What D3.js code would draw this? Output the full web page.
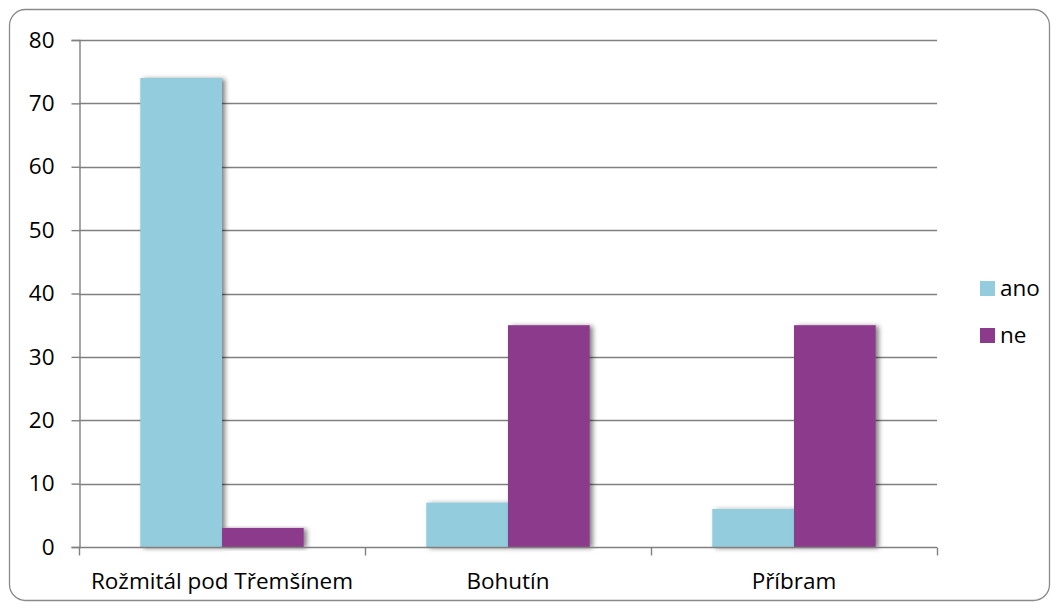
<!DOCTYPE html>
<html>
<head>
<meta charset="utf-8">
<script src="https://cdn.jsdelivr.net/npm/d3@7"></script>
<style>
  body { margin: 0; background: #fff; }
  svg { display: block; font-family: "Open Sans", sans-serif; }
</style>
</head>
<body>
<svg id="chart"></svg>
<script>
// data
const categories = ['Rožmitál pod Třemšínem', 'Bohutín', 'Příbram'];
const seriesNames = ['ano', 'ne'];
const anoValues = [74, 7, 6];
const neValues = [3, 35, 35];
const yTicks = [0, 10, 20, 30, 40, 50, 60, 70, 80];
const colors = ['#93CDDD', '#8C3B8C'];

const width = 1059, height = 608;
const margin = { left: 79, right: 122, top: 40, bottom: 61 };
const fontSize = 22.5;

const svg = d3.select('#chart').attr('width', width).attr('height', height);

// stin pod sloupci
const defs = svg.append('defs');
const f = defs.append('filter').attr('id', 'shadow')
  .attr('x', '-10%').attr('y', '-10%').attr('width', '130%').attr('height', '130%');
f.append('feDropShadow')
  .attr('dx', 3).attr('dy', 1).attr('stdDeviation', 2.5)
  .attr('flood-color', '#000').attr('flood-opacity', 0.5);

// ramecek
svg.append('rect')
  .attr('x', 9.5).attr('y', 9.5)
  .attr('width', width - 19).attr('height', height - 17)
  .attr('rx', 16).attr('ry', 16)
  .attr('fill', '#fff').attr('stroke', '#8a8a8a').attr('stroke-width', 1.3);

const x0 = d3.scaleBand().domain(categories)
  .range([margin.left, width - margin.right]).padding(0);
const x1 = d3.scaleBand().domain(seriesNames)
  .range([0, x0.bandwidth()]).paddingInner(0).paddingOuter(0.75);
const y = d3.scaleLinear().domain([0, 80])
  .range([height - margin.bottom, margin.top]);

// mrizka
svg.append('g').selectAll('line').data(yTicks.filter(d => d > 0)).join('line')
  .attr('x1', margin.left).attr('x2', width - margin.right)
  .attr('y1', d => Math.round(y(d)) + 0.5).attr('y2', d => Math.round(y(d)) + 0.5)
  .attr('stroke', '#808080').attr('stroke-width', 1.4);

// osa y
const yAxis = svg.append('g')
  .attr('transform', `translate(${margin.left + 0.5},0)`)
  .call(d3.axisLeft(y).tickValues(yTicks).tickSize(8).tickPadding(17).tickFormat(d3.format('d')));
yAxis.select('.domain').attr('stroke', '#808080').attr('stroke-width', 1.4);
yAxis.selectAll('.tick line').attr('stroke', '#808080').attr('stroke-width', 1.4);
yAxis.selectAll('.tick text').attr('font-size', fontSize).attr('fill', '#000')
  .attr('font-family', '"Open Sans", sans-serif');

// sloupce
const rows = categories.map((c, i) => ({ cat: c, vals: [anoValues[i], neValues[i]] }));
const groups = svg.append('g').selectAll('g').data(rows).join('g')
  .attr('transform', d => `translate(${x0(d.cat)},0)`);
groups.selectAll('rect')
  .data(d => d.vals.map((v, j) => ({ key: seriesNames[j], v, j })))
  .join('rect')
  .attr('x', d => x1(d.key))
  .attr('y', d => y(d.v))
  .attr('width', x1.bandwidth())
  .attr('height', d => y(0) - y(d.v))
  .attr('fill', d => colors[d.j])
  .attr('filter', 'url(#shadow)');

// osa x
const xAxis = svg.append('g')
  .attr('transform', `translate(0,${Math.round(y(0)) + 0.5})`);
xAxis.append('line')
  .attr('x1', margin.left).attr('x2', width - margin.right)
  .attr('stroke', '#808080').attr('stroke-width', 1.4);
const bounds = categories.map(c => x0(c)).concat([width - margin.right]);
xAxis.selectAll('.ct').data(bounds).join('line').attr('class', 'ct')
  .attr('x1', d => Math.round(d) + 0.5).attr('x2', d => Math.round(d) + 0.5)
  .attr('y1', 0).attr('y2', 8)
  .attr('stroke', '#808080').attr('stroke-width', 1.4);
xAxis.selectAll('text').data(categories).join('text')
  .attr('x', d => x0(d) + x0.bandwidth() / 2)
  .attr('y', 41)
  .attr('text-anchor', 'middle')
  .attr('font-size', fontSize)
  .attr('fill', '#000')
  .text(d => d);

// legenda
const legend = svg.append('g').attr('transform', 'translate(980,281)');
const li = legend.selectAll('g').data(seriesNames).join('g')
  .attr('transform', (d, i) => `translate(0,${i * 47})`);
li.append('rect').attr('width', 15).attr('height', 15)
  .attr('fill', (d, i) => colors[i]);
li.append('text').attr('x', 20).attr('y', 15)
  .attr('font-size', fontSize).attr('fill', '#000').text(d => d);
</script>
</body>
</html>
